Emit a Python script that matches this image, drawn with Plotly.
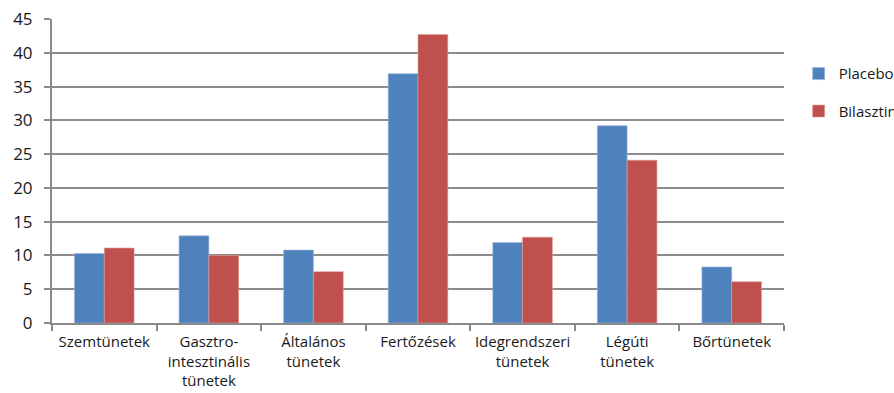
import plotly.graph_objects as go

categories = ["Szemtünetek", "Gasztro-<br>intesztinális<br>tünetek", "Általános<br>tünetek",
              "Fertőzések", "Idegrendszeri<br>tünetek", "Légúti<br>tünetek", "Bőrtünetek"]
placebo = [10.3, 12.9, 10.8, 36.9, 11.9, 29.2, 8.3]
bilasztin = [11.1, 10.0, 7.6, 42.7, 12.7, 24.1, 6.1]
y_ticks = [0, 5, 10, 15, 20, 25, 30, 35, 40, 45]

FONT = "Open Sans"

fig = go.Figure()
fig.add_trace(go.Bar(x=categories, y=placebo, name="Placebo", legendgroup="a",
                     marker=dict(color="#4F81BD", line=dict(color="#9DB6DA", width=0.6))))
fig.add_trace(go.Bar(x=categories, y=bilasztin, name="Bilasztin", legendgroup="b",
                     marker=dict(color="#C0504D", line=dict(color="#E09A98", width=0.6))))

fig.update_layout(
    width=894, height=393,
    margin=dict(l=52, r=110, t=19, b=70, autoexpand=False),
    paper_bgcolor="white", plot_bgcolor="white",
    barmode="group", bargap=0.43, bargroupgap=0,
    font=dict(family=FONT, size=15, color="#1a1a1a"),
    legend=dict(x=1.02, y=0.874, xanchor="left", yanchor="top",
                traceorder="grouped", tracegroupgap=15,
                font=dict(size=15), itemwidth=30),
    xaxis=dict(showline=True, linecolor="#8a8a8a", linewidth=2,
               ticks="outside", tickson="boundaries", ticklen=6, tickcolor="#8a8a8a",
               tickwidth=1.5, tickfont=dict(size=15), tickangle=0, showgrid=False,
               ticklabelstandoff=4),
    yaxis=dict(range=[0, 45], tickvals=y_ticks, showline=True, linecolor="#8a8a8a", linewidth=2,
               ticks="outside", ticklen=6, tickcolor="#8a8a8a", tickwidth=1.5,
               gridcolor="#8c8c8c", gridwidth=1.5, zeroline=False,
               tickfont=dict(size=17), ticklabelstandoff=8),
)

fig.write_html("out.html")
